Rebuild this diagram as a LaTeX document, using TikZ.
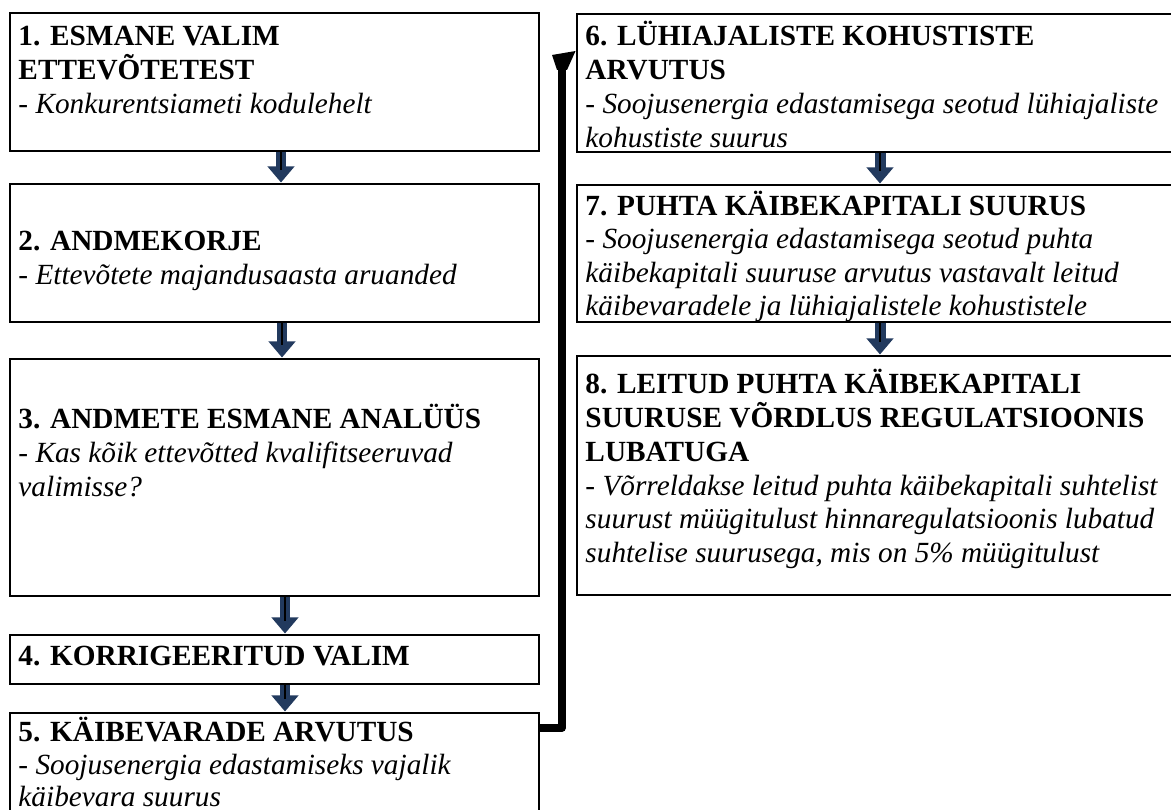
\documentclass[tikz,border=0pt]{standalone}
\usepackage{fontspec}
\setmainfont{Liberation Serif}
\usetikzlibrary{arrows.meta,fit,calc}
\definecolor{navy}{HTML}{223A5E}
\newcommand{\fl}{\rule{0pt}{11pt}}
\begin{document}
\begin{tikzpicture}[x=0.41pt,y=-0.41pt,
  box/.style={draw=black, line width=1.2pt, inner sep=0pt, rectangle},
  txt/.style={anchor=north west, inner sep=0pt, align=left, font=\fontsize{12pt}{13.9pt}\selectfont},
  blk/.style={line width=4.5pt, draw=navy, -{Triangle[length=6.6pt,width=10.7pt]}},
  core/.style={line width=0.9pt, draw=black, shorten >=5pt},
  conn/.style={line width=3pt, draw=black, line join=round},
  connhead/.style={fill=black}
]
\useasboundingbox (0,0) rectangle (1171,810);
\clip (0,0) rectangle (1171,810);
\fill[white] (0,0) rectangle (1171,810);
% left column boxes
\node[box, fit={(10,13) (539,151)}] (b1) {};
\node[box, fit={(10,184) (539,322)}] (b2) {};
\node[box, fit={(10,359) (539,596)}] (b3) {};
\node[box, fit={(10,635) (539,684)}] (b4) {};
\node[box, fit={(10,713) (539,840)}] (b5) {};
% right column boxes
\node[box, fit={(577,14) (1185,152)}] (b6) {};
\node[box, fit={(577,185) (1185,322)}] (b7) {};
\node[box, fit={(577,356) (1185,595)}] (b8) {};
% texts
\node[txt] (t1) at (18,18) {\fl\textbf{1. ESMANE VALIM}\\\textbf{ETTEVÕTETEST}\\\textit{- Konkurentsiameti kodulehelt}};
\node[txt] (t2) at (18,223) {\fl\textbf{2. ANDMEKORJE}\\\textit{- Ettevõtete majandusaasta aruanded}};
\node[txt] (t3) at (18,401) {\fl\textbf{3. ANDMETE ESMANE ANALÜÜS}\\\textit{- Kas kõik ettevõtted kvalifitseeruvad}\\\textit{valimisse?}};
\node[txt] (t4) at (18,638) {\fl\textbf{4. KORRIGEERITUD VALIM}};
\node[txt, font=\fontsize{12pt}{13.4pt}\selectfont] (t5) at (18,714) {\fl\textbf{5. KÄIBEVARADE ARVUTUS}\\\textit{- Soojusenergia edastamiseks vajalik}\\\textit{käibevara suurus}};
\node[txt] (t6) at (585,18) {\fl\textbf{6. LÜHIAJALISTE KOHUSTISTE}\\\textbf{ARVUTUS}\\\textit{- Soojusenergia edastamisega seotud lühiajaliste}\\\textit{kohustiste suurus}};
\node[txt, font=\fontsize{12pt}{13.7pt}\selectfont] (t7) at (585,188) {\fl\textbf{7. PUHTA KÄIBEKAPITALI SUURUS}\\\textit{- Soojusenergia edastamisega seotud puhta}\\\textit{käibekapitali suuruse arvutus vastavalt leitud}\\\textit{käibevaradele ja lühiajalistele kohustistele}};
\node[txt] (t8) at (585,366) {\fl\textbf{8. LEITUD PUHTA KÄIBEKAPITALI}\\\textbf{SUURUSE VÕRDLUS REGULATSIOONIS}\\\textbf{LUBATUGA}\\\textit{- Võrreldakse leitud puhta käibekapitali suhtelist}\\\textit{suurust müügitulust hinnaregulatsioonis lubatud}\\\textit{suhtelise suurusega, mis on 5\% müügitulust}};
% block arrows
\foreach \a/\b/\x in {b1/b2/281, b2/b3/282, b3/b4/285, b4/b5/285, b6/b7/880, b7/b8/880}{
  \draw[blk] (\a.south -| \x,0) -- (\b.north -| \x,0);
  \draw[core] (\a.south -| \x,0) -- (\b.north -| \x,0);
}
% elbow connector 5 -> 6
\coordinate (cbase) at (562,66);
\draw[conn] (b5.north east |- 0,728) -- (562,728) -- (cbase);
\fill[connhead] (552,55) -- (b6.north west |- 0,51) -- (567,70) -- (557,70) -- cycle;
\end{tikzpicture}
\end{document}
